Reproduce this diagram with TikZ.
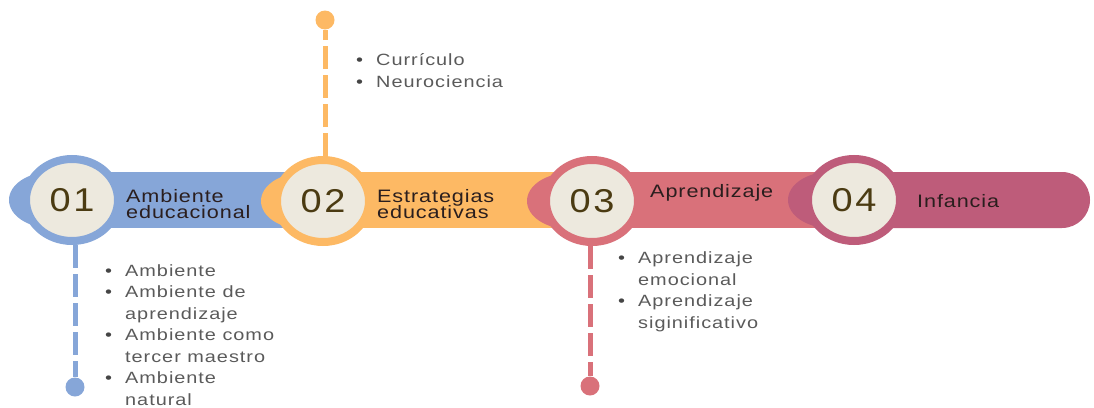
\documentclass[tikz,border=0pt]{standalone}
\usepackage{fontspec}
\setmainfont{Liberation Sans}[FakeStretch=1.2,LetterSpace=5]
\newfontfamily\numfont{Liberation Sans}[FakeStretch=1.15,LetterSpace=8]
\newfontfamily\listfont{Liberation Sans}[FakeStretch=1.22,LetterSpace=6]
\usetikzlibrary{shapes.geometric}

\definecolor{blueb}{HTML}{86A6D8}
\definecolor{orangeb}{HTML}{FDB964}
\definecolor{redb}{HTML}{D9717A}
\definecolor{magb}{HTML}{BE5C7A}
\definecolor{cream}{HTML}{EDE9DE}
\definecolor{numtext}{HTML}{4B3B12}
\definecolor{titletext}{HTML}{2A1E1E}
\definecolor{itemtext}{HTML}{5A5A5A}
\definecolor{bulletgray}{HTML}{454545}

\setlength{\lineskiplimit}{-20pt}
\newcommand{\blt}{\makebox[20pt][l]{\color{bulletgray}\textbullet}}
\newcommand{\ind}{\hspace*{20pt}}

\begin{document}
\begin{tikzpicture}[x=1pt,y=-1pt,
    ring/.style={ellipse,draw=#1,line width=8pt,fill=cream,inner sep=0pt,
                 minimum width=92pt,minimum height=82pt,
                 font=\numfont\fontsize{33}{33}\selectfont,text=numtext},
    blob/.style={ellipse,fill=#1,inner sep=0pt,minimum width=84pt,minimum height=56pt},
    stem/.style={draw=#1,line width=5pt,dash pattern=on 23pt off 6pt},
    tip/.style={circle,fill=#1,inner sep=0pt,minimum size=19pt},
    title/.style={anchor=base west,align=left,inner sep=0pt,text=titletext,
                  font=\fontsize{18}{16}\selectfont},
    items/.style={anchor=base west,align=left,inner sep=0pt,text=itemtext,
                  font=\listfont\fontsize{16.3}{21.5}\selectfont}]
  \useasboundingbox (0,0) rectangle (1094,407);

  % the band
  \fill[blueb]   (72,172) rectangle (323,228);
  \fill[orangeb] (323,172) rectangle (592,228);
  \fill[redb]    (592,172) rectangle (854,228);
  \fill[magb, rounded corners=28pt] (854,172) rectangle (1090,228);

  % stages
  \node[blob=blueb]   (As) at (51,200)  {};
  \node[ring=blueb]   (A)  at (72,200)  {01};
  \node[blob=orangeb] (Bs) at (303,201) {};
  \node[ring=orangeb] (B)  at (323,201) {02};
  \node[blob=redb]    (Cs) at (569,201) {};
  \node[ring=redb]    (C)  at (592,201) {03};
  \node[blob=magb]    (Ds) at (830,200) {};
  \node[ring=magb]    (D)  at (854,200) {04};

  % base = last line
  \node[title] (At) at (126,218) {Ambiente\\educacional};
  \node[title] (Bt) at (377,218) {Estrategias\\educativas};
  \node[title] (Ct) at (650,197) {Aprendizaje};
  \node[title] (Dt) at (917,207) {Infancia};

  % stems and lists
  \node[tip=blueb]   (a) at (75,387) {};
  \node[tip=orangeb] (b) at (325,20) {};
  \node[tip=redb]    (c) at (590,386) {};
  \draw[stem=blueb]   (a |- A.south) -- (a);
  \draw[stem=orangeb] (b |- B.north) -- (b);
  \draw[stem=redb]    (c |- C.south) -- (c);

  \node[items] (Al) at (105,405) {\blt Ambiente\\\blt Ambiente de\\\ind aprendizaje\\
        \blt Ambiente como\\\ind tercer maestro\\\blt Ambiente\\\ind natural};
  \node[items] (Bl) at (356,87)  {\blt Currículo\\\blt Neurociencia};
  \node[items] (Cl) at (618,328) {\blt Aprendizaje\\\ind emocional\\
        \blt Aprendizaje\\\ind siginificativo};
\end{tikzpicture}
\end{document}
